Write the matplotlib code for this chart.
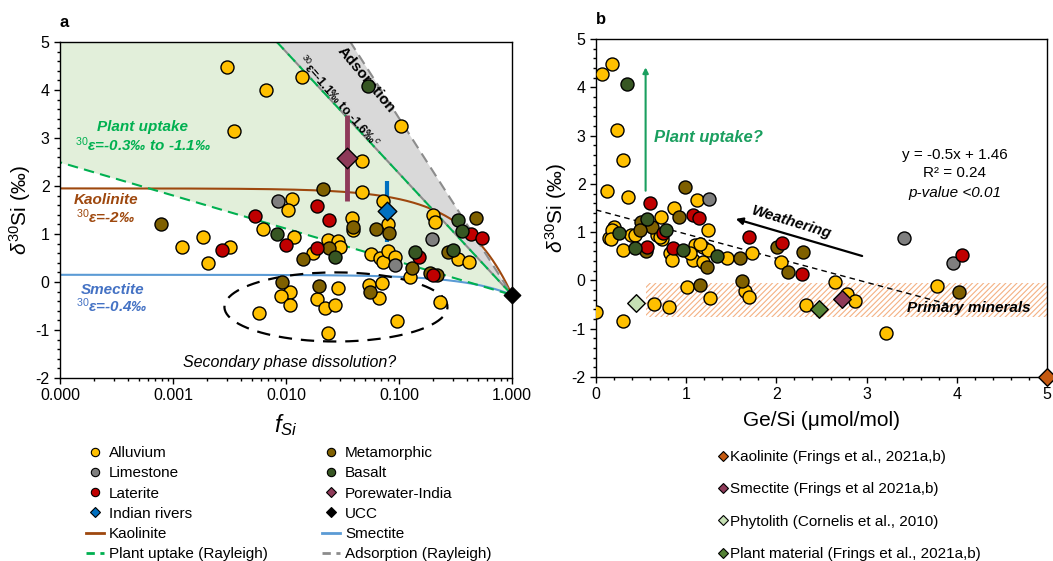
import numpy as np
import matplotlib
matplotlib.use("Agg")
import matplotlib.pyplot as plt
from matplotlib.lines import Line2D
from matplotlib.ticker import AutoMinorLocator, MultipleLocator

plt.rcParams['font.family'] = ['Liberation Sans', 'DejaVu Sans']
plt.rcParams['mathtext.fontset'] = 'custom'
plt.rcParams['mathtext.rm'] = 'Liberation Sans'
plt.rcParams['mathtext.it'] = 'Liberation Sans:italic'
plt.rcParams['mathtext.bf'] = 'Liberation Sans:bold'
plt.rcParams['axes.unicode_minus'] = False
plt.rcParams['hatch.linewidth'] = 0.8

# ---- panel a data: (f_Si, d30Si) ----
allu_f = [0.0030, 0.0138, 0.0066, 0.0035, 0.105, 0.047, 0.047, 0.0113, 0.0104, 0.0063,
          0.0118, 0.0012, 0.00185, 0.00204, 0.0032, 0.0174, 0.0236, 0.029, 0.030, 0.038,
          0.039, 0.072, 0.080, 0.056, 0.068, 0.072, 0.080, 0.092, 0.20, 0.21,
          0.33, 0.42, 0.125, 0.0109, 0.0091, 0.0109, 0.0058, 0.029, 0.0188, 0.022,
          0.027, 0.0235, 0.054, 0.071, 0.066, 0.096, 0.23]
allu_d = [4.48, 4.27, 4.0, 3.15, 3.25, 2.52, 1.88, 1.73, 1.5, 1.1,
          0.94, 0.73, 0.94, 0.4, 0.73, 0.6, 0.87, 0.86, 0.72, 1.33,
          1.08, 1.69, 1.21, 0.58, 0.5, 0.42, 0.65, 0.52, 1.4, 1.25,
          0.48, 0.42, 0.1, -0.2, -0.3, -0.48, -0.64, -0.13, -0.36, -0.55,
          -0.48, -1.06, -0.06, -0.03, -0.34, -0.82, -0.42]
meta_f = [0.00079, 0.0213, 0.0141, 0.024, 0.039, 0.062, 0.081, 0.48, 0.27, 0.130,
          0.19, 0.215, 0.0092, 0.0196, 0.055]
meta_d = [1.21, 1.94, 0.48, 0.7, 1.15, 1.1, 1.02, 1.33, 0.63, 0.29,
          0.19, 0.15, 0.0, -0.08, -0.2]
lime_f = [0.0085, 0.092, 0.195]
lime_d = [1.69, 0.35, 0.9]
late_f = [0.0187, 0.024, 0.0053, 0.0100, 0.0027, 0.0187, 0.15, 0.43, 0.54, 0.20]
late_d = [1.58, 1.29, 1.37, 0.77, 0.67, 0.7, 0.52, 1.0, 0.92, 0.15]
basa_f = [0.053, 0.0083, 0.027, 0.138, 0.33, 0.36, 0.30]
basa_d = [4.08, 1.0, 0.52, 0.63, 1.29, 1.06, 0.67]
pore_f, pore_d, pore_err = [0.0347], [2.58], [0.9]
riv_f, riv_d, riv_err = [0.078], [1.47], [0.63]
ucc_f, ucc_d = [1.0], [-0.27]

# model parameters
eps_kao_curve = -2.22
eps_sme_curve = -0.42
eps_plant = [-0.3, -1.1]
eps_ads = [-1.1, -1.6]

# ---- panel b data: (Ge/Si, d30Si) ----
b_allu_x = [0.07, 0.18, 0.23, 0.30, 0.12, 0.35, 1.12, 0.86, 1.24, 0.72,
            0.20, 0.14, 0.39, 0.68, 0.73, 0.30, 1.10, 1.19, 1.24, 1.08,
            1.19, 1.45, 1.73, 2.05, 0.82, 0.84, 1.04, 1.15, 0.18, 0.17,
            0.43, 0.71,
            0.0, 0.30, 0.64, 0.81, 1.01, 1.26, 1.65, 1.70, 2.33, 2.65,
            2.78, 2.87, 3.22, 3.78]
b_allu_y = [4.27, 4.48, 3.12, 2.5, 1.86, 1.72, 1.66, 1.49, 1.04, 1.31,
            1.1, 0.88, 0.94, 0.94, 0.86, 0.63, 0.73, 0.69, 0.63, 0.42,
            0.38, 0.46, 0.56, 0.38, 0.57, 0.42, 0.57, 0.75, 1.04, 0.86,
            0.94, 0.9,
            -0.65, -0.84, -0.49, -0.55, -0.14, -0.36, -0.22, -0.34, -0.51, -0.03,
            -0.28, -0.43, -1.09, -0.12]
b_meta_x = [0.99, 0.92, 0.50, 0.62, 0.49, 0.55, 1.23, 1.60, 2.01, 2.13, 2.29, 1.15, 1.62, 4.02]
b_meta_y = [1.93, 1.31, 1.21, 1.1, 1.04, 0.61, 0.28, 0.46, 0.69, 0.17, 0.59, -0.1, -0.01, -0.24]
b_lime_x = [1.25, 3.41, 3.96]
b_lime_y = [1.68, 0.88, 0.36]
b_late_x = [0.60, 1.08, 1.14, 0.74, 0.57, 0.85, 1.70, 2.06, 2.28, 4.06]
b_late_y = [1.6, 1.35, 1.29, 0.98, 0.69, 0.67, 0.9, 0.77, 0.13, 0.53]
b_basa_x = [0.34, 0.57, 0.25, 0.43, 0.78, 0.96, 1.34]
b_basa_y = [4.07, 1.27, 0.98, 0.67, 1.04, 0.63, 0.5]
ref_names = ['Kaolinite (Frings et al., 2021a,b)', 'Smectite (Frings et al 2021a,b)',
             'Phytolith (Cornelis et al., 2010)', 'Plant material (Frings et al., 2021a,b)']
ref_x = [5.0, 2.73, 0.44, 2.47]
ref_y = [-2.0, -0.39, -0.47, -0.59]
ref_col = ['#C55A11', '#8E3A59', '#C5E0B4', '#548235']
slope, intercept = -0.5, 1.46

C_ALLU, C_META, C_LIME = '#FFC000', '#7F6000', '#7F7F7F'
C_LATE, C_BASA, C_PORE = '#C00000', '#375623', '#8E3A59'
C_RIV = '#0070C0'
C_KAO, C_SME = '#9E480E', '#5B9BD5'
C_GREEN, C_GRAY = '#00B050', '#8C8C8C'
S = 88

fig = plt.figure(figsize=(10.53, 5.61), dpi=100)
axa = fig.add_axes([60 / 1053, 1 - 378 / 561, 452 / 1053, 336 / 561])
axb = fig.add_axes([596 / 1053, 1 - 377 / 561, 451 / 1053, 338 / 561])

# ================= panel a =================
f = np.logspace(-4, 0, 400)
d0 = ucc_d[0]
ray = lambda e: d0 + e * np.log(f)
axa.fill_between(f, ray(eps_plant[0]), ray(eps_plant[1]), color='#E2EFDA', lw=0, zorder=0)
axa.fill_between(f, ray(eps_ads[0]), ray(eps_ads[1]), color='#D9D9D9', lw=0, zorder=0)
axa.plot(f, d0 - eps_kao_curve * (1 - f), color=C_KAO, lw=1.5, zorder=1)
axa.plot(f, d0 - eps_sme_curve * (1 - f), color=C_SME, lw=1.5, zorder=1)
axa.plot(f, ray(eps_ads[1]), color=C_GRAY, lw=1.5, ls=(0, (5, 3)), zorder=1)
axa.plot(f, ray(eps_ads[0]), color=C_GRAY, lw=1.5, ls=(0, (5, 3)), zorder=1)
for e in eps_plant:
    axa.plot(f, ray(e), color=C_GREEN, lw=1.5, ls=(4, (5, 3)), zorder=1)

# ellipse around low values
t = np.linspace(0, 2 * np.pi, 200)
axa.plot(10 ** (-1.558 + 0.987 * np.cos(t)), -0.52 + 0.72 * np.sin(t),
         color='black', lw=1.6, ls=(0, (6, 4)), zorder=1)

# error bars
axa.vlines(pore_f, np.array(pore_d) - pore_err, np.array(pore_d) + pore_err, color=C_PORE, lw=3.5, zorder=1)
axa.vlines(riv_f, np.array(riv_d) - riv_err, np.array(riv_d) + riv_err, color=C_RIV, lw=3, zorder=1)

kw = dict(s=S, edgecolors='black', linewidths=1, zorder=3)
axa.scatter(allu_f, allu_d, c=C_ALLU, **kw)
axa.scatter(meta_f, meta_d, c=C_META, **kw)
axa.scatter(lime_f, lime_d, c=C_LIME, **kw)
axa.scatter(late_f, late_d, c=C_LATE, **kw)
axa.scatter(basa_f, basa_d, c=C_BASA, **kw)
axa.scatter(pore_f, pore_d, c=C_PORE, marker='D', s=110, edgecolors='black', linewidths=1, zorder=4)
axa.scatter(riv_f, riv_d, c=C_RIV, marker='D', s=90, edgecolors='black', linewidths=1, zorder=4)
axa.scatter(ucc_f, ucc_d, c='black', marker='D', s=70, zorder=5, clip_on=False)

axa.set_xscale('log')
axa.set_xlim(1e-4, 1)
axa.set_ylim(-2, 5)
axa.set_xticks([1e-4, 1e-3, 1e-2, 1e-1, 1])
axa.set_xticklabels(['0.000', '0.001', '0.010', '0.100', '1.000'])
axa.yaxis.set_major_locator(MultipleLocator(1))
axa.yaxis.set_minor_locator(AutoMinorLocator(5))
axa.set_xlabel(r'$f_{Si}$', fontsize=17, labelpad=6)
axa.set_ylabel(r'$\mathit{\delta}^{30}$Si (‰)', fontsize=15, labelpad=2)

axa.text(5.4e-4, 3.22, 'Plant uptake', color=C_GREEN, fontsize=11, fontweight='bold',
         style='italic', ha='center', va='center')
axa.text(5.4e-4, 2.87, r'$^{30}$ε=-0.3‰ to -1.1‰', color=C_GREEN, fontsize=11,
         fontweight='bold', style='italic', ha='center', va='center')
axa.text(2.55e-4, 1.71, 'Kaolinite', color=C_KAO, fontsize=11, fontweight='bold',
         style='italic', ha='center', va='center')
axa.text(2.55e-4, 1.37, r'$^{30}$ε=-2‰', color=C_KAO, fontsize=11, fontweight='bold',
         style='italic', ha='center', va='center')
axa.text(2.9e-4, -0.17, 'Smectite', color='#4472C4', fontsize=11, fontweight='bold',
         style='italic', ha='center', va='center')
axa.text(2.9e-4, -0.5, r'$^{30}$ε=-0.4‰', color='#4472C4', fontsize=11, fontweight='bold',
         style='italic', ha='center', va='center')
axa.text(0.0108, -1.67, 'Secondary phase dissolution?', fontsize=11.5, style='italic',
         ha='center', va='center')
axa.text(0.051, 4.21, 'Adsorption', fontsize=11, fontweight='bold', rotation=-50,
         rotation_mode='anchor', ha='center', va='center', zorder=2)
axa.text(0.0288, 3.75, r'$^{30}$ε=-1.1‰ to -1.6‰$^{c}$', fontsize=9, fontweight='bold',
         rotation=-49, rotation_mode='anchor', ha='center', va='center', zorder=2)
axa.text(0.0, 1.035, 'a', transform=axa.transAxes, fontsize=12, fontweight='bold', va='bottom')

# ================= panel b =================
axb.fill_between([0.55, 5], -0.75, -0.05, facecolor='none', edgecolor='#F4B183',
                 hatch='//////', linewidth=0, zorder=0)
xr = np.array([0.0, 3.9])
axb.plot(xr, slope * xr + intercept, color='black', lw=1, ls=(0, (4, 3)), zorder=1)

axb.scatter(b_allu_x, b_allu_y, c=C_ALLU, **kw)
axb.scatter(b_meta_x, b_meta_y, c=C_META, **kw)
axb.scatter(b_lime_x, b_lime_y, c=C_LIME, **kw)
axb.scatter(b_late_x, b_late_y, c=C_LATE, **kw)
axb.scatter(b_basa_x, b_basa_y, c=C_BASA, **kw)
for x, y, c in zip(ref_x, ref_y, ref_col):
    axb.scatter([x], [y], c=c, marker='D', s=80, edgecolors='black', linewidths=1,
                zorder=4, clip_on=False)

axb.annotate('', xy=(0.55, 4.47), xytext=(0.55, 1.8),
             arrowprops=dict(arrowstyle='-|>', color='#1A9F5F', lw=1.5, mutation_scale=8))
axb.text(0.64, 2.95, 'Plant uptake?', color='#1A9F5F', fontsize=12, fontweight='bold',
         style='italic', va='center')
axb.annotate('', xy=(1.52, 1.29), xytext=(2.98, 0.49),
             arrowprops=dict(arrowstyle='-|>', color='black', lw=1.6, mutation_scale=10))
axb.text(2.17, 1.2, 'Weathering', fontsize=11, fontweight='bold', style='italic',
         rotation=-17, rotation_mode='anchor', ha='center', va='center')
axb.text(3.98, 2.6, 'y = -0.5x + 1.46', fontsize=11, ha='center', va='center')
axb.text(3.98, 2.22, 'R² = 0.24', fontsize=11, ha='center', va='center')
axb.text(3.98, 1.82, 'p-value <0.01', fontsize=11, style='italic', ha='center', va='center')
axb.text(4.13, -0.57, 'Primary minerals', fontsize=11, fontweight='bold', style='italic',
         ha='center', va='center')

axb.set_xlim(0, 5)
axb.set_ylim(-2, 5)
axb.xaxis.set_major_locator(MultipleLocator(1))
axb.xaxis.set_minor_locator(AutoMinorLocator(5))
axb.yaxis.set_major_locator(MultipleLocator(1))
axb.yaxis.set_minor_locator(AutoMinorLocator(5))
axb.set_xlabel('Ge/Si (μmol/mol)', fontsize=15, labelpad=6)
axb.set_ylabel(r'$\mathit{\delta}^{30}$Si (‰)', fontsize=15, labelpad=2)
axb.text(0.0, 1.035, 'b', transform=axb.transAxes, fontsize=12, fontweight='bold', va='bottom')

for ax in (axa, axb):
    ax.tick_params(which='both', direction='out', labelsize=11.5, width=1)
    ax.tick_params(which='major', length=4)
    ax.tick_params(which='minor', length=2.5)
    for sp in ax.spines.values():
        sp.set_linewidth(1)

# ================= legends =================
def mk(c, m='o', ms=6):
    return Line2D([], [], ls='none', marker=m, markerfacecolor=c, markeredgecolor='black',
                  markeredgewidth=0.8, markersize=ms)

col1 = [mk(C_ALLU), mk(C_LIME), mk(C_LATE), mk(C_RIV, 'D', 5),
        Line2D([], [], color=C_KAO, lw=2), Line2D([], [], color=C_GREEN, lw=2, ls=(0, (3, 2)))]
lab1 = ['Alluvium', 'Limestone', 'Laterite', 'Indian rivers', 'Kaolinite', 'Plant uptake (Rayleigh)']
col2 = [mk(C_META), mk(C_BASA), mk(C_PORE, 'D', 5), mk('black', 'D', 5),
        Line2D([], [], color=C_SME, lw=2), Line2D([], [], color=C_GRAY, lw=2, ls=(0, (3, 2)))]
lab2 = ['Metamorphic', 'Basalt', 'Porewater-India', 'UCC', 'Smectite', 'Adsorption (Rayleigh)']
lkw = dict(frameon=False, fontsize=11, loc='upper left', handlelength=1.2,
           handletextpad=0.3, borderpad=0, borderaxespad=0, labelspacing=0.41)
fig.legend(col1, lab1, bbox_to_anchor=(86 / 1053, 1 - 446 / 561), **lkw)
fig.legend(col2, lab2, bbox_to_anchor=(322 / 1053, 1 - 446 / 561), **lkw)
col3 = [mk(c, 'D', 5) for c in ref_col]
fig.legend(col3, ref_names, frameon=False, fontsize=11, loc='upper left', handlelength=0.6,
           handletextpad=0.2, borderpad=0, borderaxespad=0, labelspacing=1.2,
           bbox_to_anchor=(718 / 1053, 1 - 450 / 561))

fig.savefig('out.png', dpi=100)
